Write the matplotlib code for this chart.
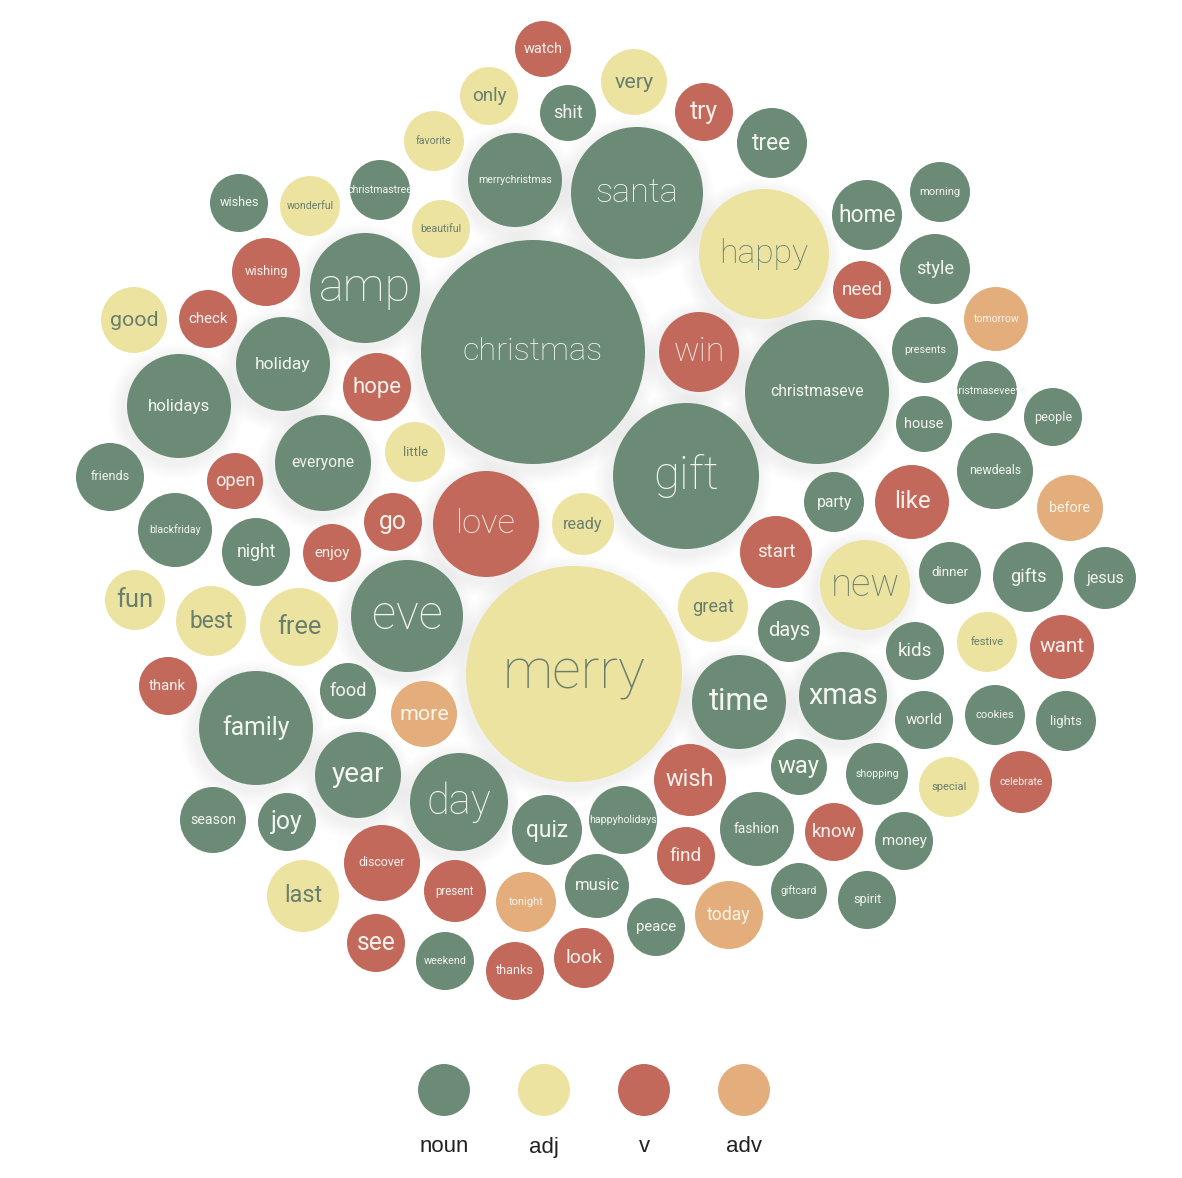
import matplotlib.pyplot as plt
from matplotlib.patches import Circle

# word bubbles: label, part of speech, centre (x, y) and bubble radius (frequency scale)
words = ["watch", "very", "only", "shit", "try", "tree", "favorite", "merrychristmas",
         "santa", "christmastree", "wishes", "wonderful", "beautiful", "happy", "home",
         "morning", "wishing", "amp", "style", "need", "good", "check", "tomorrow",
         "christmas", "win", "holiday", "hope", "presents", "christmaseve", "holidays",
         "christmaseveeve", "house", "people", "little", "everyone", "friends", "open",
         "gift", "newdeals", "love", "go", "party", "like", "before", "ready",
         "blackfriday", "night", "enjoy", "start", "new", "dinner", "gifts", "jesus",
         "fun", "best", "free", "eve", "great", "merry", "days", "kids", "festive",
         "want", "thank", "food", "more", "family", "time", "xmas", "world", "cookies",
         "lights", "year", "day", "wish", "way", "shopping", "special", "celebrate",
         "season", "joy", "quiz", "happyholidays", "fashion", "know", "money",
         "discover", "find", "present", "tonight", "music", "giftcard", "spirit",
         "last", "today", "peace", "see", "weekend", "thanks", "look"]
pos = ["v", "adj", "adj", "noun", "v", "noun", "adj", "noun",
       "noun", "noun", "noun", "adj", "adj", "adj", "noun",
       "noun", "v", "noun", "noun", "v", "adj", "v", "adv",
       "noun", "v", "noun", "v", "noun", "noun", "noun",
       "noun", "noun", "noun", "adj", "noun", "noun", "v",
       "noun", "noun", "v", "v", "noun", "v", "adv", "adj",
       "noun", "noun", "v", "v", "adj", "noun", "noun", "noun",
       "adj", "adj", "adj", "noun", "adj", "adj", "noun", "noun", "adj",
       "v", "v", "noun", "adv", "noun", "noun", "noun", "noun", "noun",
       "noun", "noun", "noun", "v", "noun", "noun", "adj", "v",
       "noun", "noun", "noun", "noun", "noun", "v", "noun",
       "v", "v", "v", "adv", "noun", "noun", "noun",
       "adj", "adv", "noun", "v", "noun", "v", "v"]
x = [543, 634, 489, 568, 704, 772, 434, 515,
     637, 380, 239, 310, 441, 764, 867,
     940, 266, 365, 935, 862, 134, 208, 996,
     533, 699, 283, 377, 925, 817, 179,
     987, 924, 1053, 415, 323, 110, 235,
     686, 995, 486, 393, 834, 912, 1070, 583,
     175, 256, 332, 776, 865, 950, 1028, 1105,
     135, 211, 299, 407, 713, 574, 789, 915, 987,
     1062, 168, 348, 424, 256, 739, 843, 924, 995,
     1066, 358, 459, 690, 799, 877, 949, 1021,
     213, 287, 547, 623, 757, 834, 904,
     382, 686, 455, 526, 597, 799, 867,
     303, 729, 656, 376, 445, 515, 584]
y = [49, 82, 96, 113, 112, 143, 141, 180,
     193, 190, 203, 206, 229, 254, 215,
     192, 272, 288, 269, 290, 320, 319, 319,
     352, 352, 364, 387, 350, 392, 406,
     391, 424, 417, 452, 463, 477, 481,
     476, 471, 524, 522, 502, 502, 508, 524,
     530, 552, 553, 552, 585, 573, 577, 578,
     600, 621, 627, 616, 607, 674, 631, 651, 642,
     647, 686, 691, 714, 728, 702, 696, 720, 715,
     721, 775, 802, 780, 767, 774, 787, 782,
     820, 822, 830, 820, 829, 832, 841,
     863, 856, 891, 902, 886, 891, 900,
     896, 915, 927, 943, 961, 971, 958]
size = [28, 33, 29, 28, 29, 35, 30, 47,
        66, 30, 29, 30, 29, 65, 35,
        30, 34, 55, 35, 29, 33, 29, 32,
        112, 40, 47, 34, 33, 72, 52,
        30, 28, 29, 30, 48, 34, 28,
        73, 38, 53, 29, 30, 37, 33, 31,
        37, 34, 29, 36, 45, 31, 35, 31,
        30, 35, 39, 56, 35, 108, 31, 29, 30,
        32, 29, 28, 33, 57, 47, 44, 29, 30,
        30, 43, 49, 36, 28, 31, 30, 31,
        33, 29, 35, 34, 37, 29, 29,
        38, 29, 31, 30, 32, 28, 29,
        36, 34, 29, 29, 29, 29, 30]

categories = ["noun", "adj", "v", "adv"]
fill = {"noun": "#6b8b76", "adj": "#ede3a1", "v": "#c2695b", "adv": "#e3ae7b"}
ink = {"noun": "#f4f5f0", "adj": "#687f6d", "v": "#faf1ed", "adv": "#fdf4ea"}

W, H = 1182, 1178
fig = plt.figure(figsize=(W / 100, H / 100), dpi=100)
ax = fig.add_axes([0, 0, 1, 1])
ax.set_xlim(0, W)
ax.set_ylim(H, 0)
ax.set_aspect("equal")
ax.axis("off")

# soft shadow behind the bigger bubbles
for xi, yi, r in zip(x, y, size):
    if r >= 40:
        for k in range(1, 8):
            ax.add_patch(Circle((xi - 3, yi + 5), r + k * 2.2, color="#9aa7a0",
                                alpha=0.018, lw=0, zorder=1))

for w, p, xi, yi, r in zip(words, pos, x, y, size):
    c = Circle((xi, yi), r, facecolor=fill[p], edgecolor="none", zorder=2)
    ax.add_patch(c)
    em = min(0.85 * r, 2.6 * r / len(w))
    em = max(em, 10.5)
    weight = "light" if em > 31 else "normal"
    t = ax.text(xi, yi, w, ha="center", va="center", fontsize=em * 0.72,
                color=ink[p], family="Roboto", fontweight=weight, zorder=3)
    t.set_clip_path(c)

# legend
lax = fig.add_axes([394 / W, 1 - 1175 / H, 400 / W, 140 / H])
lax.set_xlim(-0.5, 3.5)
lax.set_ylim(0, 140)
lax.axis("off")
for i, cat in enumerate(categories):
    lax.scatter(i, 85, s=1400, color=fill[cat], edgecolors="none")
    lax.text(i, 28, cat, ha="center", va="center", fontsize=16,
             color="#222222", family="Liberation Sans")

fig.savefig("out.png", dpi=100, facecolor="white")
